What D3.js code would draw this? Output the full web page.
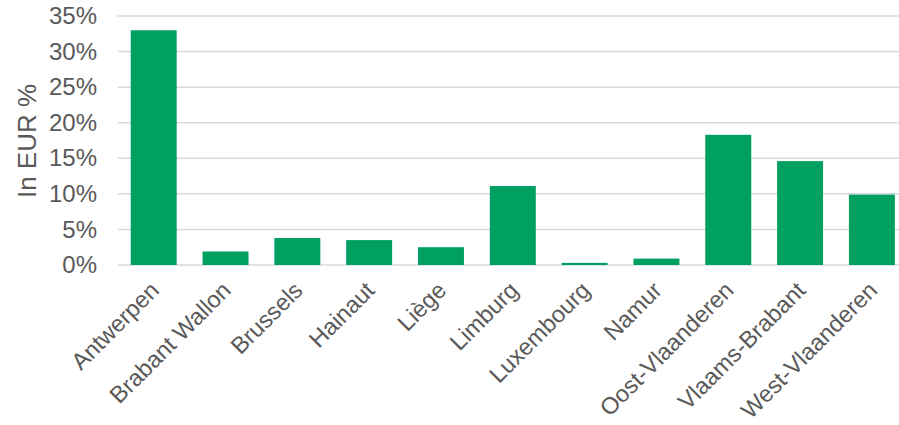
<!DOCTYPE html>
<html>
<head>
<meta charset="utf-8">
<script src="https://cdn.jsdelivr.net/npm/d3@7"></script>
<style>
  html, body { margin: 0; padding: 0; background: #ffffff; }
  svg { display: block; }
  text { font-family: "Liberation Sans", Arial, sans-serif; fill: #595959; }
</style>
</head>
<body>
<script>
// Share of EUR by Belgian province
const provinces = ["Antwerpen", "Brabant Wallon", "Brussels", "Hainaut", "Liège", "Limburg",
                   "Luxembourg", "Namur", "Oost-Vlaanderen", "Vlaams-Brabant", "West-Vlaanderen"];
const shares = [33.0, 1.9, 3.8, 3.5, 2.5, 11.1, 0.3, 0.9, 18.3, 14.6, 9.9];
const yTicks = [0, 5, 10, 15, 20, 25, 30, 35];
const yTitle = "In EUR %";

const width = 899, height = 425;
const plot = { left: 117.8, right: 907.8, top: 16, bottom: 265 };

const svg = d3.select("body").append("svg")
  .attr("width", width).attr("height", height);

const x = d3.scaleBand()
  .domain(provinces)
  .range([plot.left, plot.right])
  .paddingInner(0.36)
  .paddingOuter(0.18);

const y = d3.scaleLinear()
  .domain([0, 35])
  .range([plot.bottom, plot.top]);

// horizontal gridlines
svg.append("g")
  .selectAll("line")
  .data(yTicks)
  .join("line")
  .attr("x1", plot.left).attr("x2", plot.right)
  .attr("y1", d => y(d)).attr("y2", d => y(d))
  .attr("stroke", "#d9d9d9")
  .attr("stroke-width", 1.5);

// bars
svg.append("g")
  .selectAll("rect")
  .data(provinces)
  .join("rect")
  .attr("x", d => x(d))
  .attr("width", x.bandwidth())
  .attr("y", (d, i) => y(shares[i]))
  .attr("height", (d, i) => y(0) - y(shares[i]))
  .attr("fill", "#00a060");

// y axis tick labels
const yAxis = d3.axisLeft(y)
  .tickValues(yTicks)
  .tickFormat(d => d + "%")
  .tickSize(0)
  .tickPadding(0);

svg.append("g")
  .attr("transform", `translate(97,0)`)
  .call(yAxis)
  .call(g => g.select(".domain").remove())
  .call(g => g.selectAll("text")
    .attr("font-size", 24)
    .attr("font-family", "Liberation Sans, Arial, sans-serif")
    .attr("fill", "#595959"));

// y axis title
svg.append("text")
  .attr("transform", `translate(36,141) rotate(-90)`)
  .attr("text-anchor", "middle")
  .attr("font-size", 26)
  .text(yTitle);

// x axis category labels, rotated
const xAxis = d3.axisBottom(x).tickSize(0).tickPadding(0);
svg.append("g")
  .attr("transform", `translate(0,${plot.bottom})`)
  .call(xAxis)
  .call(g => g.select(".domain").remove())
  .call(g => g.selectAll("text")
    .attr("font-size", 23.5)
    .attr("font-family", "Liberation Sans, Arial, sans-serif")
    .attr("fill", "#595959")
    .attr("text-anchor", "end")
    .attr("y", 0)
    .attr("dy", "0.35em")
    .attr("transform", "translate(1,21) rotate(-45)"));
</script>
</body>
</html>
